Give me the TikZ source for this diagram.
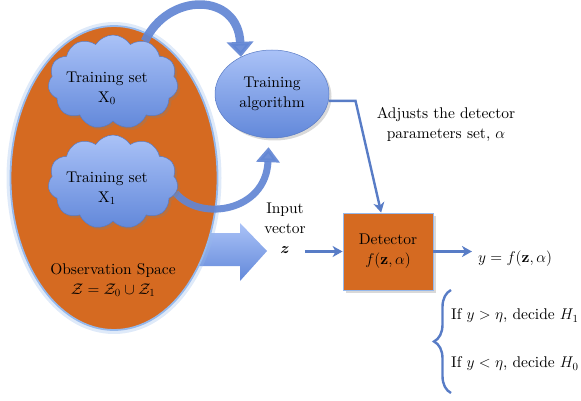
\RequirePackage{fix-cm}
\documentclass[tikz,border=0pt]{standalone}
\usepackage{bm}
\usepackage{fontspec}
\setmainfont{lmroman10-regular.otf}[BoldFont=lmroman10-bold.otf, ItalicFont=lmroman10-italic.otf, BoldItalicFont=lmroman10-bolditalic.otf]
\usetikzlibrary{shapes.symbols,shapes.geometric,shadows,arrows.meta,decorations.pathreplacing,calc}
\definecolor{orangefill}{RGB}{213,106,33}
\definecolor{lineblue}{RGB}{88,124,198}
\definecolor{blueTop}{RGB}{170,194,247}
\definecolor{blueBot}{RGB}{98,136,218}
\definecolor{glowblue}{RGB}{150,185,236}
\definecolor{bendblue}{RGB}{98,134,212}
\pgfdeclarelayer{bg}
\pgfsetlayers{bg,main}
\begin{document}
\begin{tikzpicture}[x=1pt,y=-1pt,
  lbl/.style={font=\fontsize{15.5}{20}\selectfont, align=center, text=black},
  softshadow/.style={drop shadow={shadow xshift=2.5pt, shadow yshift=-2.5pt, opacity=0.3}},
  cloudnode/.style={cloud, cloud puffs=11, cloud puff arc=115, aspect=1.45,
    minimum width=130pt, minimum height=94pt, top color=blueTop, bottom color=blueBot,
    draw=blueBot!90!black, line width=0.5pt, softshadow, inner sep=0pt},
  bluebubble/.style={ellipse, top color=blueTop, bottom color=blueBot,
    draw=blueBot!90!black, line width=0.5pt, softshadow, lbl, inner sep=0pt},
  detbox/.style={rectangle, fill=orangefill, draw=glowblue, line width=0.8pt,
    softshadow, lbl},
  conn/.style={draw=lineblue, line width=2.4pt, -{Stealth[length=10pt,width=11pt,inset=3pt]}},
  bendarrow/.style={draw=bendblue, opacity=0.92},
]
\useasboundingbox (0,0) rectangle (581,401);

% wide arrow leaving the observation space
\begin{pgfonlayer}{bg}
  \shade[top color=blueTop, bottom color=blueBot]
    (192,233) -- (240,233) -- (240,223) -- (267,251) -- (240,281) -- (240,266) -- (192,266) -- cycle;
  \node[ellipse, minimum width=211pt, minimum height=308pt, draw=glowblue, opacity=0.3,
        line width=4pt] (obsglow) at (114,178) {};
  \node[ellipse, minimum width=207pt, minimum height=304pt, fill=orangefill,
        draw=glowblue, line width=1.8pt] (obs) at (114,178) {};
\end{pgfonlayer}

\node[lbl] (obstext) at (113,280) {Observation Space\\$\mathcal{Z}=\mathcal{Z}_0\cup\mathcal{Z}_1$};

% training sets
\node[cloudnode] (c0) at (113,82) {};
\node[lbl] (c0text) at (107,88) {Training set\\X$_0$};
\node[cloudnode] (c1) at (113,182) {};
\node[lbl] (c1text) at (107,188) {Training set\\X$_1$};

% training algorithm
\node[bluebubble, minimum width=114pt, minimum height=88pt] (alg) at (272,94) {Training\\algorithm};

% curved arrows from the training sets
\begin{pgfonlayer}{bg}
  \draw[bendarrow, line width=8.5pt, -{Triangle[width=26pt,length=15pt]}]
    (c0.52) .. controls (168,-8) and (238,-8) .. (alg.130);
  \draw[bendarrow, line width=7pt, shorten >=9pt, -{Triangle[width=23pt,length=15pt]}]
    (c1.-10) .. controls (200,222) and (266,212) .. (alg.266);
\end{pgfonlayer}

% detector
\node[detbox, minimum width=90pt, minimum height=77pt] (det) at (388,251.5) {Detector\\$f(\mathbf{z},\alpha)$};

\node[lbl] (inp) at (285,228) {Input\\vector\\$\bm{z}$};
\coordinate (zin) at (305,251.5);
\draw[conn] (zin) -- (det.west);

\node[lbl, anchor=west, inner sep=2pt] (yout) at (476,259) {$y=f(\mathbf{z},\alpha)$};
\draw[conn, shorten >=4pt] (det.east) -- (det.east -| yout.west);

\node[lbl] (adj) at (446,124) {Adjusts the detector\\parameters set, $\alpha$};
\draw[draw=lineblue, line width=2.4pt, -{Stealth[length=10pt,width=11pt,inset=3pt]}]
  (alg.-7) -- ++(27,0) -- (det.100);

% decision rule
\coordinate (bt) at (451,290);
\coordinate (bb) at (451,393);
\draw[draw=lineblue, line width=2.4pt, decorate, decoration={brace, amplitude=17pt}] (bb) -- (bt);
\node[lbl, anchor=west, inner sep=0pt] (h1) at (451,316) {If\ $y>\eta$, decide $H_1$};
\node[lbl, anchor=west, inner sep=0pt] (h0) at (451,364) {If\ $y<\eta$, decide $H_0$};
\end{tikzpicture}
\end{document}
